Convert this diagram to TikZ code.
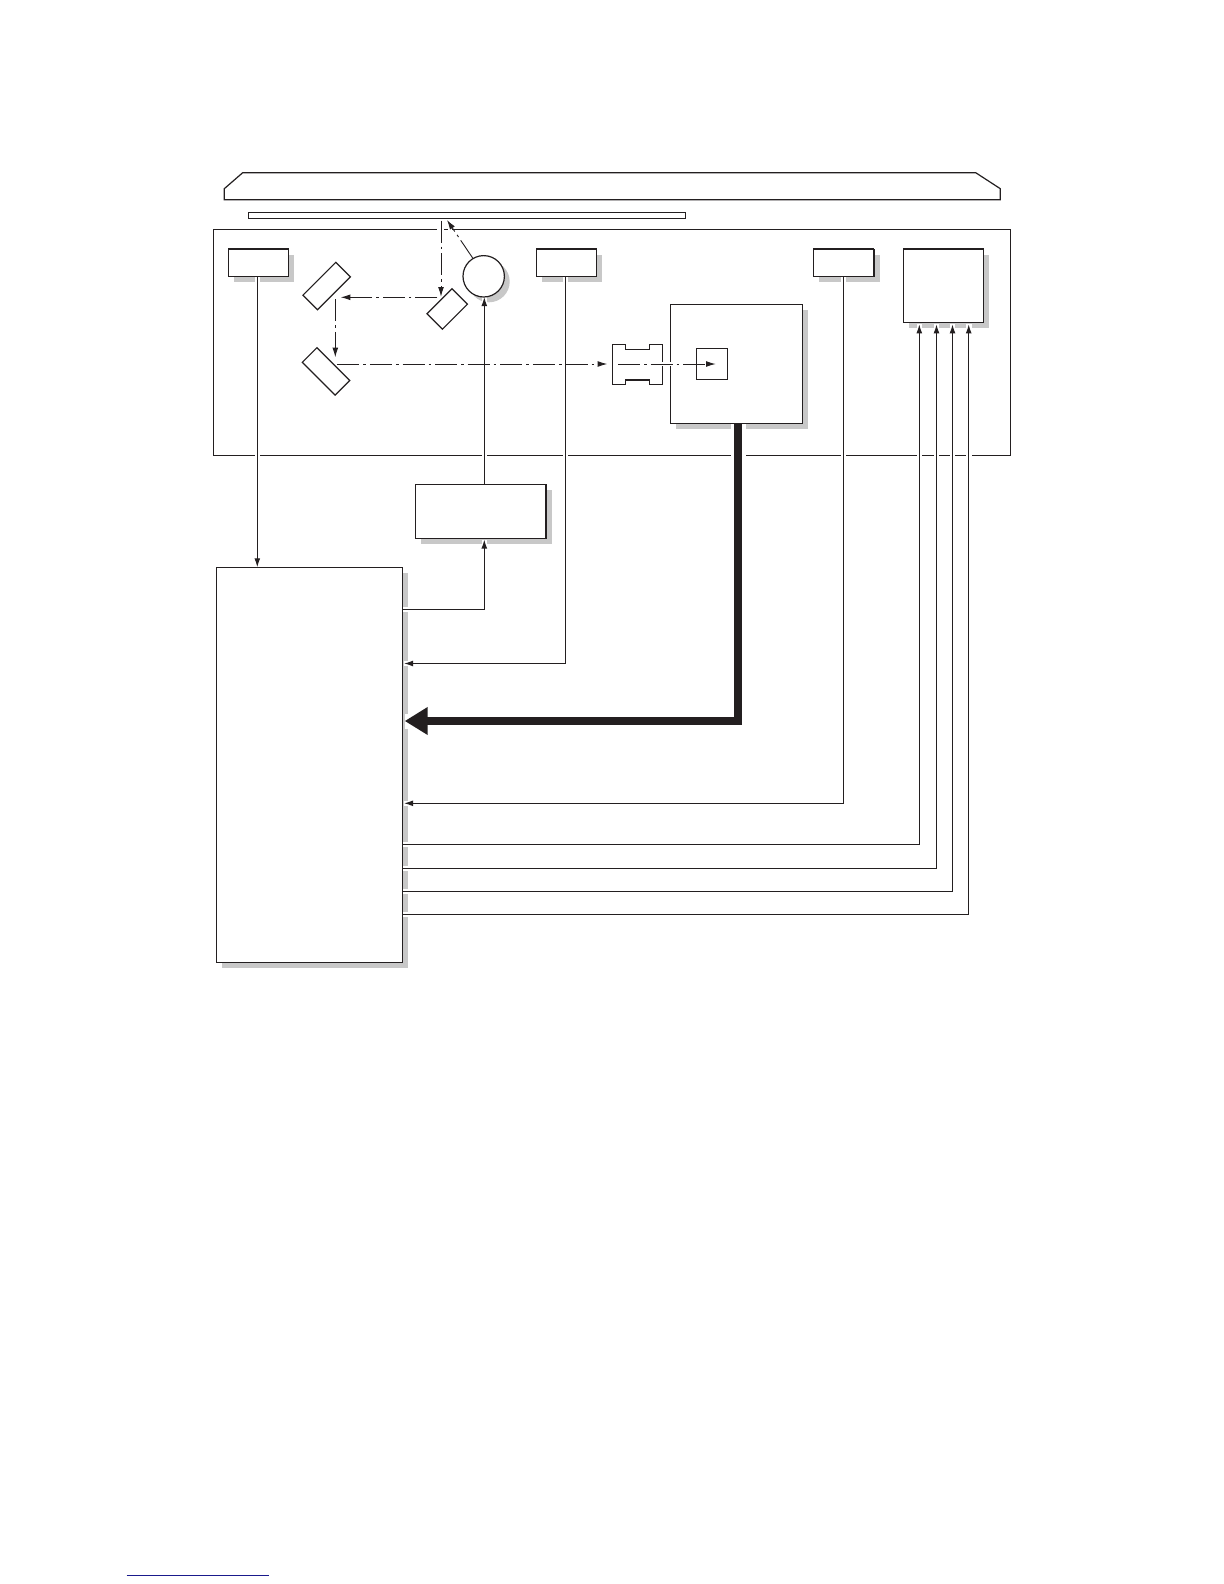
\documentclass[tikz,border=0pt]{standalone}
\usetikzlibrary{arrows.meta}
\definecolor{ink}{HTML}{231F20}
\definecolor{shade}{HTML}{C8C8C8}
\definecolor{linkblue}{HTML}{1A1A8C}
\pgfdeclarelayer{paper}
\pgfdeclarelayer{bg}
\pgfdeclarelayer{mid}
\pgfdeclarelayer{front}
\pgfsetlayers{paper,bg,mid,main,front}
\tikzset{
  x=0.5bp,y=-0.5bp,
  outline/.style={draw=ink,line width=0.6bp,line join=miter},
  boxnode/.style={outline,fill=white,rectangle,inner sep=0pt,outer sep=0pt},
  shadenode/.style={fill=shade,draw=none,inner sep=0pt,outer sep=0pt,xshift=2.65bp,yshift=-2.65bp},
  wh/.style 2 args={minimum width=#1*0.5bp,minimum height=#2*0.5bp},
  wire/.style={draw=ink,line width=0.55bp,-{Latex[length=4.5bp,width=2.9bp]},
     preaction={draw=white,line width=2.8bp,-}},
  bus/.style={draw=ink,line width=4bp,line join=miter,-{Triangle[length=11.5bp,width=13.2bp]},
     preaction={draw=white,line width=7.5bp,-}},
  ray/.style={draw=ink,line width=0.45bp,dash pattern=on 11bp off 2bp on 1.3bp off 2bp,
     -{Latex[length=4.8bp,width=2.9bp]}},
  gap/.style={draw=white,line width=2bp},
  topedge/.style={draw=ink,line width=1bp},
}
% name, x, y, width, height, extra node options
\newcommand\shadowedbox[6]{%
  \begin{pgfonlayer}{bg}
    \node[shadenode,rectangle,wh={#4}{#5}] (#1shade) at (#2,#3) {};
  \end{pgfonlayer}
  \node[boxnode,wh={#4}{#5},#6] (#1) at (#2,#3) {};
}
\begin{document}
\begin{tikzpicture}
\useasboundingbox (0,0) rectangle (1224,1584);
\begin{pgfonlayer}{paper}
\fill[white] (0,0) rectangle (1224,1584);
\end{pgfonlayer}

% cover and glass
\draw[outline,fill=white] (224.3,199.7) -- (224.3,188.7) -- (242.7,172.7) -- (975.7,172.7)
   -- (1000.3,188.7) -- (1000.3,199.7) -- cycle;
\node[boxnode,wh={437.4}{6.4}] (glass) at (467,215.5) {};

% housing
\begin{pgfonlayer}{bg}
  \node[outline,rectangle,inner sep=0pt,outer sep=0pt,wh={797.4}{226}] (frame) at (612,342.3) {};
\end{pgfonlayer}

% boxes
\shadowedbox{sensorA}{258.5}{263}{60.4}{27.4}{}
\shadowedbox{sensorB}{566.5}{263}{60.4}{27.4}{}
\shadowedbox{sensorC}{843.8}{263}{61}{27.4}{}
\shadowedbox{motor}{943.5}{286}{80.4}{73.4}{}
\shadowedbox{ccd}{736.5}{363.8}{132.4}{119}{}
\shadowedbox{driver}{480.8}{511.5}{131}{54.4}{}
\shadowedbox{ctrl}{309.7}{764.8}{186}{395}{}
\node[boxnode,wh={31.4}{31}] (chip) at (712,363.8) {};

% lamp
\begin{pgfonlayer}{bg}
  \node[shadenode,circle,minimum size=20.7bp] (lampshade) at (483.7,276.3) {};
\end{pgfonlayer}
\node[boxnode,circle,minimum size=20.7bp] (lamp) at (483.7,276.3) {};

% mirrors
\node[boxnode,wh={46.5}{20.6},rotate=45] (mirrorA) at (326.7,286) {};
\node[boxnode,wh={46.4}{20.7},rotate=-45] (mirrorB) at (326,371.4) {};
\node[boxnode,wh={35.4}{21.8},rotate=45] (mirrorC) at (447.2,309) {};

% lens
\draw[outline,fill=white] (612.3,344.3) -- (625.3,344.3) -- (625.3,349.3) -- (649.7,349.3)
  -- (649.7,344.3) -- (662.7,344.3) -- (662.7,384.7) -- (649.7,384.7) -- (649.7,379.3)
  -- (625.3,379.3) -- (625.3,384.7) -- (612.3,384.7) -- cycle;
\draw[topedge] (625.3,379.6) -- (649.7,379.6);
\coordinate (lensE) at (662.7,364);

% heavier top edges
\draw[topedge] (sensorA.north west) -- (sensorA.north east);
\draw[topedge] (sensorB.north west) -- (sensorB.north east);
\draw[topedge] (sensorC.north west) -- (sensorC.north east);
\draw[topedge] (sensorC.north east) -- (sensorC.south east);
\draw[topedge] (motor.north west) -- (motor.north east);
\draw[topedge] (driver.north east) -- (driver.south east);

% columns and rows of the wiring
\coordinate (colA) at (257.3,0);
\coordinate (colL) at (484.3,0);
\coordinate (colB) at (565.3,0);
\coordinate (colBus) at (738,0);
\coordinate (colC) at (843.3,0);
\coordinate (colM1) at (919.3,0);
\coordinate (colM2) at (936.5,0);
\coordinate (colM3) at (952.5,0);
\coordinate (colM4) at (968.7,0);
\coordinate (rowDrv) at (0,609.3);
\coordinate (rowM1) at (0,844.3);
\coordinate (rowM2) at (0,868.3);
\coordinate (rowM3) at (0,891.3);
\coordinate (rowM4) at (0,914.3);
\coordinate (tipB) at (404,663.5);
\coordinate (tipBus) at (404.7,721);
\coordinate (tipC) at (404,803.3);
\coordinate (tipM) at (0,324.3);

\begin{pgfonlayer}{mid}
  \draw[wire] (colA |- sensorA.south) -- (colA |- ctrl.north);
  \draw[wire] (colL |- driver.north) -- (colL |- lamp.south);
  \draw[wire] (rowDrv -| ctrl.east) -| ([yshift=-0.4bp]colL |- driver.south);
  \draw[wire] (colB |- sensorB.south) |- (tipB);
  \draw[wire] (colC |- sensorC.south) |- (tipC);
  \draw[wire] (rowM1 -| ctrl.east) -| (colM1 |- tipM);
  \draw[wire] (rowM2 -| ctrl.east) -| (colM2 |- tipM);
  \draw[wire] (rowM3 -| ctrl.east) -| (colM3 |- tipM);
  \draw[wire] (rowM4 -| ctrl.east) -| (colM4 |- tipM);
  \draw[bus] (colBus |- ccd.south) |- (tipBus);
\end{pgfonlayer}

% light path
\coordinate (glassHit) at (441,220.7);
\coordinate (glassTip) at (447,220);
\coordinate (mirC) at (441,296.7);
\coordinate (mirCout) at (437.3,297.3);
\coordinate (mirAin) at (340.7,297.3);
\coordinate (mirAout) at (335.3,299.3);
\coordinate (mirBin) at (335.3,357.3);
\coordinate (mirBout) at (337.3,364);
\coordinate (lensIn) at (607.3,364);
\coordinate (lensOut) at (618,364);
\coordinate (chipIn) at (715.7,364);
\begin{pgfonlayer}{front}
  \draw[gap] (437,229.3) -- (443.5,229.3);
  \draw[gap] (448,229.3) -- (452,229.3);
  \draw[gap] ([xshift=-1bp]lensE) -- ([xshift=1bp]lensE);
  \draw[gap] ([xshift=-1bp]ccd.west |- lensE) -- ([xshift=1bp]ccd.west |- lensE);
  \draw[ray] (glassHit) -- (mirC);
  \draw[ray] (lamp.121) -- (glassTip);
  \draw[ray] (mirCout) -- (mirAin);
  \draw[ray] (mirAout) -- (mirBin);
  \draw[ray] (mirBout) -- (lensIn);
  \draw[ray] (lensOut) -- (chipIn);
\end{pgfonlayer}

% rule at the page foot
\draw[draw=linkblue,line width=0.6bp] (126.7,1575.3) -- (269,1575.3);
\end{tikzpicture}
\end{document}
